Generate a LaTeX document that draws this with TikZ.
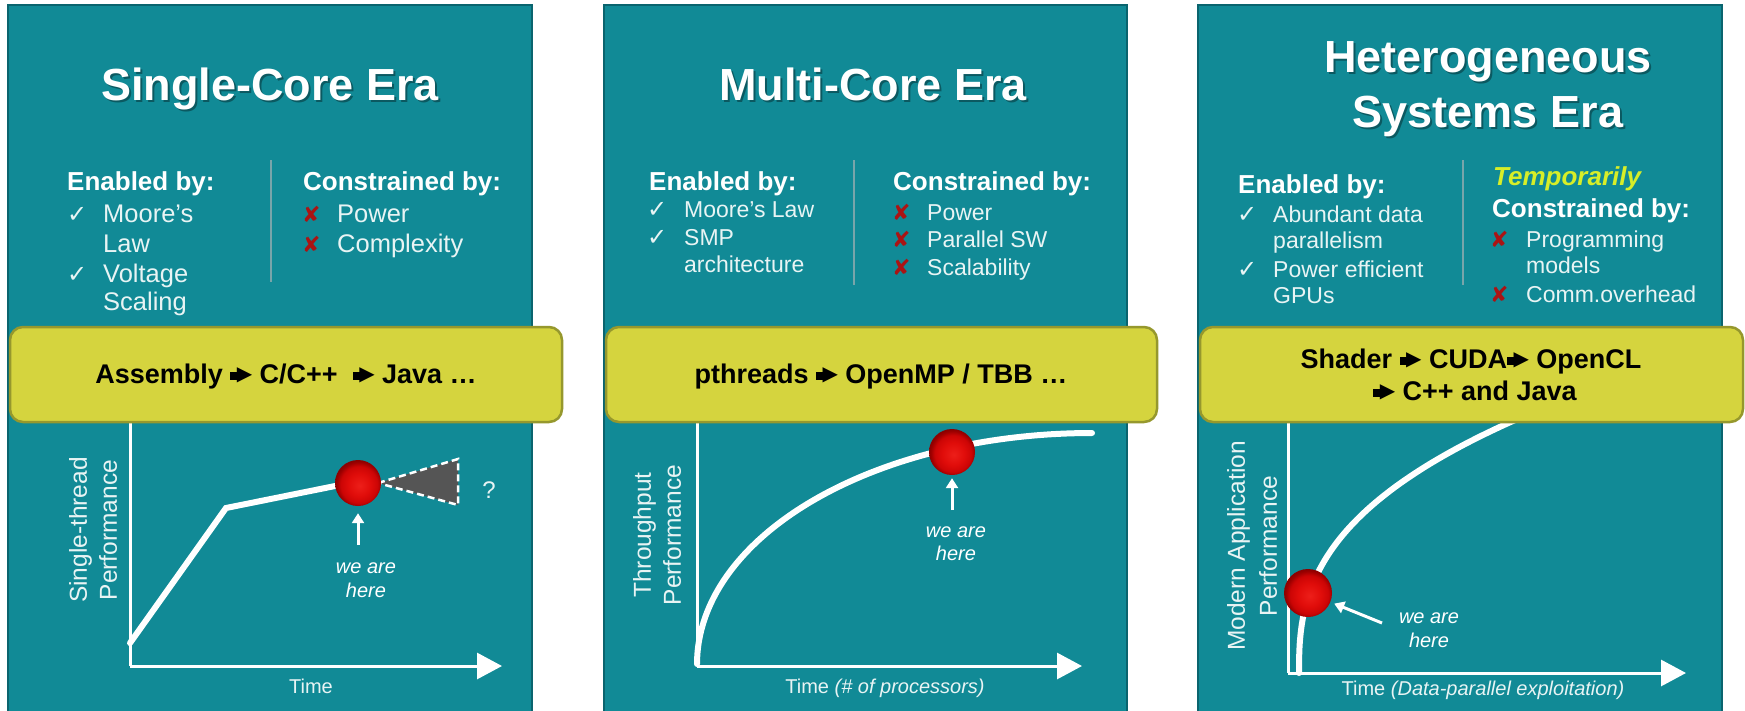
\documentclass[tikz,border=0pt]{standalone}
\usepackage{fontspec}
\setmainfont{Liberation Sans}
\newfontfamily\symf{DejaVu Sans}
\usetikzlibrary{arrows.meta}
\definecolor{tealc}{RGB}{17,138,150}
\definecolor{tealdk}{RGB}{10,100,110}
\definecolor{barfill}{RGB}{213,212,62}
\definecolor{barline}{RGB}{150,152,45}
\definecolor{txtc}{RGB}{232,244,244}
\definecolor{divc}{RGB}{120,165,170}
\definecolor{crossc}{RGB}{170,20,20}
\definecolor{tempc}{RGB}{215,238,40}
\definecolor{conec}{RGB}{85,85,85}
\pgfdeclareradialshading{redball}{\pgfpoint{2bp}{-3bp}}{%
  rgb(0bp)=(0.93,0.12,0.10);
  rgb(12bp)=(0.88,0.05,0.04);
  rgb(20bp)=(0.80,0.02,0.02);
  rgb(24bp)=(0.62,0.00,0.00);
  rgb(26bp)=(0.55,0.00,0.00);
  rgb(50bp)=(0.55,0.00,0.00)}
\newcommand\ckmk{{\symf\fontsize{24}{24}\selectfont ✓}}
\newcommand\xmk{{\symf\fontsize{22}{22}\selectfont\color{crossc}✘}}
\newcommand\yarr{\mbox{\rule[3.5pt]{8pt}{8pt}\kern-1.5pt\raisebox{\dimexpr7.5pt-0.5\height+0.5\depth\relax}{\symf\fontsize{20}{20}\selectfont ▶}}}
\begin{document}
\begin{tikzpicture}[x=1pt, y=-1pt,
  panelbox/.style={fill=tealc, draw=tealdk, line width=2},
  barbox/.style={fill=barfill, draw=barline, line width=2.5, rounded corners=13pt},
  ttl/.style={font=\fontsize{45}{54}\selectfont\bfseries, text=white, anchor=base, inner sep=0},
  ttlsh/.style={ttl, text=black, opacity=0.35},
  hd/.style={font=\fontsize{26}{30}\selectfont\bfseries, text=white, anchor=base west, inner sep=0},
  itmA/.style={font=\fontsize{25.5}{30}\selectfont, text=txtc, anchor=base west, inner sep=0},
  itmB/.style={font=\fontsize{23}{28}\selectfont, text=txtc, anchor=base west, inner sep=0},
  mk/.style={anchor=base west, inner sep=0, text=txtc},
  divl/.style={draw=divc, line width=2.5},
  bartxt/.style={font=\fontsize{27}{32}\selectfont\bfseries, text=black, anchor=base, inner sep=0},
  ax/.style={draw=white, line width=3},
  axarr/.style={ax, -{Triangle[length=25pt, width=26pt]}},
  crv/.style={draw=white, line width=6, line cap=round},
  ballst/.style={circle, inner sep=0, minimum size=46pt, shade, shading=redball},
  herelbl/.style={font=\fontsize{20}{24}\selectfont\itshape, text=white, anchor=base, inner sep=0},
  herearr/.style={draw=white, line width=3, -{Triangle[length=10pt, width=12pt]}},
  axlbl/.style={font=\fontsize{20}{24}\selectfont, text=txtc, anchor=base, inner sep=0},
  ylbl/.style={font=\fontsize{24.5}{30}\selectfont, text=txtc, rotate=90, align=center, inner sep=0},
]
\useasboundingbox[fill=white] (0,0) rectangle (1745,710);
\clip (0,0) rectangle (1745,710);

% ---------- panels ----------
\path[panelbox] (8,5) rectangle (532,716);
\path[panelbox] (604,5) rectangle (1127,716);
\path[panelbox] (1198,5) rectangle (1722,716);

% ---------- titles ----------
\node[ttlsh] (t1s) at (272,102) {Single-Core Era};
\node[ttl] (t1) at (270,100) {Single-Core Era};
\node[ttlsh] (t2s) at (875,102) {Multi-Core Era};
\node[ttl] (t2) at (873,100) {Multi-Core Era};
\node[ttlsh] (t3as) at (1490,74) {Heterogeneous};
\node[ttl] (t3a) at (1488,72) {Heterogeneous};
\node[ttlsh] (t3bs) at (1490,129) {Systems Era};
\node[ttl] (t3b) at (1488,127) {Systems Era};

% ---------- panel 1 lists ----------
\node[hd] (e1) at (67,190) {Enabled by:};
\node[mk] (c1a) at (67,222) {\ckmk};
\node[itmA] (i1a) at (103,222) {Moore’s};
\node[itmA] (i1b) at (103,252) {Law};
\node[mk] (c1b) at (67,282) {\ckmk};
\node[itmA] (i1c) at (103,282) {Voltage};
\node[itmA] (i1d) at (103,310) {Scaling};
\draw[divl] (271,160) -- (271,282);
\node[hd] (k1) at (303,190) {Constrained by:};
\node[mk] (x1a) at (302,222) {\xmk};
\node[itmA] (j1a) at (337,222) {Power};
\node[mk] (x1b) at (302,252) {\xmk};
\node[itmA] (j1b) at (337,252) {Complexity};

% ---------- panel 2 lists ----------
\node[hd] (e2) at (649,190) {Enabled by:};
\node[mk] (c2a) at (647,217) {\ckmk};
\node[itmB] (i2a) at (684,217) {Moore’s Law};
\node[mk] (c2b) at (647,245) {\ckmk};
\node[itmB] (i2b) at (684,245) {SMP};
\node[itmB] (i2c) at (684,272) {architecture};
\draw[divl] (854,160) -- (854,285);
\node[hd] (k2) at (893,190) {Constrained by:};
\node[mk] (x2a) at (892,220) {\xmk};
\node[itmB] (j2a) at (927,220) {Power};
\node[mk] (x2b) at (892,247) {\xmk};
\node[itmB] (j2b) at (927,247) {Parallel SW};
\node[mk] (x2c) at (892,275) {\xmk};
\node[itmB] (j2c) at (927,275) {Scalability};

% ---------- panel 3 lists ----------
\node[hd] (e3) at (1238,193) {Enabled by:};
\node[mk] (c3a) at (1237,222) {\ckmk};
\node[itmB] (i3a) at (1273,222) {Abundant data};
\node[itmB] (i3b) at (1273,248) {parallelism};
\node[mk] (c3b) at (1237,277) {\ckmk};
\node[itmB] (i3c) at (1273,277) {Power efficient};
\node[itmB] (i3d) at (1273,303) {GPUs};
\draw[divl] (1463,160) -- (1463,285);
\node[hd, text=tempc, font=\fontsize{26}{30}\selectfont\bfseries\itshape] (tp) at (1493,185) {Temporarily};
\node[hd] (k3) at (1492,217) {Constrained by:};
\node[mk] (x3a) at (1490,247) {\xmk};
\node[itmB] (j3a) at (1526,247) {Programming};
\node[itmB] (j3b) at (1526,273) {models};
\node[mk] (x3b) at (1490,302) {\xmk};
\node[itmB] (j3c) at (1526,302) {Comm.overhead};

% ---------- graph 1 ----------
\coordinate (o1) at (130,666);
\coordinate (y1top) at (130,415);
\coordinate (x1end) at (502,666);
\draw[ax] (y1top) -- (o1);
\draw[axarr] (o1) -- (x1end);
\draw[crv] (130,643) -- (226,508) -- (345,484);
\draw[draw=white, dash pattern=on 7pt off 4pt, line width=2.5, fill=conec] (378,483) -- (458,459) -- (458,505) -- cycle;
\node[ballst] (ball1) at (358,483) {};
\node[font=\fontsize{24}{24}\selectfont, text=txtc] (q1) at (489,490) {?};
\node[herelbl] (h1a) at (366,573) {we are};
\node[herelbl] (h1b) at (366,597) {here};
\coordinate (a1s) at (358,545);
\draw[herearr, shorten >=7pt] (a1s) -- (ball1.south);
\node[axlbl] (xl1) at (311,693) {Time};
\node[ylbl] (yl1) at (93,530) {Single-thread\\Performance};

% ---------- graph 2 ----------
\coordinate (o2) at (697,666);
\coordinate (y2top) at (697,415);
\coordinate (x2end) at (1082,666);
\draw[ax] (y2top) -- (o2);
\draw[axarr] (o2) -- (x2end);
\draw[crv] plot[domain=0:90, samples=60, smooth] ({697+395*(1-cos(\x))}, {664-231*sin(\x)});
\node[ballst] (ball2) at (952,452) {};
\node[herelbl] (h2a) at (956,537) {we are};
\node[herelbl] (h2b) at (956,560) {here};
\coordinate (a2s) at (952,510);
\draw[herearr, shorten >=3pt] (a2s) -- (ball2.south);
\node[axlbl] (xl2) at (885,693) {Time \textit{(\# of processors)}};
\node[ylbl] (yl2) at (657,535) {Throughput\\Performance};

% ---------- graph 3 ----------
\coordinate (o3) at (1288,673);
\coordinate (y3top) at (1288,415);
\coordinate (x3end) at (1686,673);
\draw[ax] (y3top) -- (o3);
\draw[axarr] (o3) -- (x3end);
\draw[crv] (1299,673) -- plot[domain=0.001:1.08, samples=80, smooth] ({1299+205*\x*\x*\x}, {673-248*(\x)^1.14});
\node[ballst, minimum size=48pt] (ball3) at (1308,593) {};
\node[herelbl] (h3a) at (1429,623) {we are};
\node[herelbl] (h3b) at (1429,647) {here};
\coordinate (a3s) at (1382,623);
\draw[herearr, shorten >=4pt] (a3s) -- (ball3);
\node[axlbl] (xl3) at (1483,695) {Time \textit{(Data-parallel exploitation)}};
\node[ylbl, font=\fontsize{24.5}{32}\selectfont] (yl3) at (1252,546) {Modern Application\\Performance};

% ---------- yellow bars ----------
\path[barbox] (10,327) rectangle (562,422);
\path[barbox] (606,327) rectangle (1157,422);
\path[barbox] (1200,327) rectangle (1743,422);
\node[bartxt] (b1) at (286,383) {Assembly \yarr{} C/C++ \ \yarr{} Java …};
\node[bartxt] (b2) at (881,383) {pthreads \yarr{} OpenMP / TBB …};
\node[bartxt] (b3a) at (1471,368) {Shader \yarr{} CUDA\yarr{} OpenCL};
\node[bartxt] (b3b) at (1475,400) {\yarr{} C++ and Java};
\end{tikzpicture}
\end{document}
